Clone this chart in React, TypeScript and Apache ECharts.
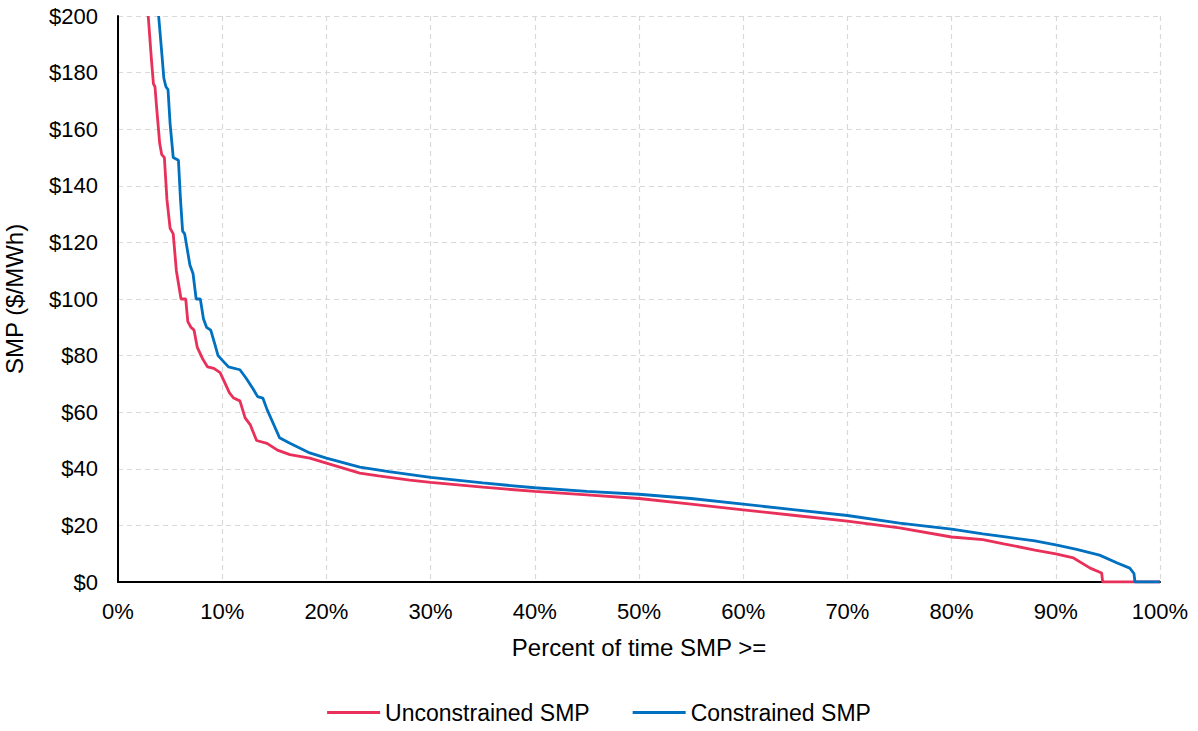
import React, { useEffect, useRef } from "react";
import * as echarts from "echarts";

const unconstrainedPct = [2.9, 3.2, 3.4, 3.55, 3.7, 4.0, 4.2, 4.45, 4.7, 5.0, 5.3, 5.6, 6.05, 6.5, 6.7, 7.0, 7.3, 7.6, 8.1, 8.6, 9.2, 9.8, 10.3, 10.7, 11.1, 11.7, 12.2, 12.7, 13.3, 14.3, 15.3, 16.5, 18.4, 20, 23.2, 25, 28, 30, 35, 40, 45, 50, 55, 60, 65, 70, 75, 80, 83, 85, 88, 90, 91.7, 93.3, 94.4, 94.5, 100];
const unconstrainedSMP = [200, 185, 176, 175, 168, 155, 151, 150, 135, 125, 123, 110, 100, 100, 92, 90, 89, 83, 79, 76, 75.5, 74, 70, 66.8, 65, 64, 58, 55.5, 50, 49, 46.6, 45, 43.8, 42, 38.5, 37.5, 36, 35.2, 33.5, 32, 30.8, 29.5, 27.5, 25.5, 23.5, 21.5, 19.1, 15.9, 15, 13.5, 11.3, 9.9, 8.5, 4.9, 3.2, 0, 0];

const constrainedPct = [3.9, 4.2, 4.4, 4.6, 4.8, 5.0, 5.3, 5.8, 6.0, 6.2, 6.4, 6.9, 7.2, 7.5, 7.9, 8.2, 8.5, 8.9, 9.3, 9.6, 10.6, 11.7, 12.3, 13.0, 13.4, 13.9, 14.3, 14.9, 15.5, 16.5, 18.4, 20, 23.2, 26, 30, 35, 40, 45, 50, 55, 60, 65, 70, 75, 80, 83, 85, 88, 90, 92, 94.2, 95.9, 97.1, 97.5, 97.6, 100];
const constrainedSMP = [200, 187, 178, 175, 174, 162, 150, 149, 135, 124, 123, 112, 109, 100, 100, 93, 90, 89, 84, 80, 76, 75, 72, 68, 65.5, 65, 61, 56, 51, 49, 45.6, 43.8, 40.6, 39, 37, 35, 33.3, 32, 31, 29.5, 27.5, 25.5, 23.5, 20.8, 18.7, 17, 16, 14.5, 13.1, 11.5, 9.5, 6.7, 4.9, 3, 0, 0];

const seriesNames = ["Unconstrained SMP", "Constrained SMP"];
const seriesColors = ["#E8305A", "#0070C0"];

const zip = (xs: number[], ys: number[]) => xs.map((x, i) => [x, ys[i]]);

export default function App() {
  const ref = useRef<HTMLDivElement>(null);
  useEffect(() => {
    if (!ref.current) return;
    const chart = echarts.init(ref.current, undefined, { renderer: "svg" });
    const font = "Liberation Sans, Arial, sans-serif";
    chart.setOption({
      animation: false,
      grid: { left: 118, right: 38, top: 16, bottom: 149, containLabel: false, outerBoundsMode: "none" },
      legend: {
        bottom: 2,
        left: "center",
        itemWidth: 53,
        itemHeight: 3,
        itemGap: 43,
        icon: "rect",
        textStyle: { fontFamily: font, fontSize: 23, color: "#000" },
        data: seriesNames,
      },
      xAxis: {
        type: "value",
        min: 0,
        max: 100,
        interval: 10,
        name: "Percent of time SMP >=",
        nameLocation: "middle",
        nameGap: 53,
        nameTextStyle: { fontFamily: font, fontSize: 24, color: "#000" },
        axisLine: { show: true, lineStyle: { color: "#000", width: 2 } },
        axisTick: { show: false },
        axisLabel: { formatter: "{value}%", fontFamily: font, fontSize: 22, color: "#000", margin: 18 },
        splitLine: { show: true, lineStyle: { color: "#d9d9d9", type: [5, 4], width: 1.2 } },
      },
      yAxis: {
        type: "value",
        min: 0,
        max: 200,
        interval: 20,
        name: "SMP ($/MWh)",
        nameLocation: "middle",
        nameGap: 92,
        nameTextStyle: { fontFamily: font, fontSize: 24, color: "#000" },
        axisLine: { show: true, lineStyle: { color: "#000", width: 2 } },
        axisTick: { show: false },
        axisLabel: { formatter: "${value}", fontFamily: font, fontSize: 22, color: "#000", margin: 20 },
        splitLine: { show: true, lineStyle: { color: "#d9d9d9", type: [5, 4], width: 1.2 } },
      },
      series: [
        {
          name: seriesNames[0],
          type: "line",
          data: zip(unconstrainedPct, unconstrainedSMP),
          showSymbol: false,
          symbol: "none",
          lineStyle: { color: seriesColors[0], width: 2.8 },
          itemStyle: { color: seriesColors[0] },
        },
        {
          name: seriesNames[1],
          type: "line",
          data: zip(constrainedPct, constrainedSMP),
          showSymbol: false,
          symbol: "none",
          lineStyle: { color: seriesColors[1], width: 2.8 },
          itemStyle: { color: seriesColors[1] },
        },
      ],
    });
    return () => chart.dispose();
  }, []);
  return <div ref={ref} style={{ width: 1198, height: 731, position: "absolute", left: 0, top: 0 }} />;
}
